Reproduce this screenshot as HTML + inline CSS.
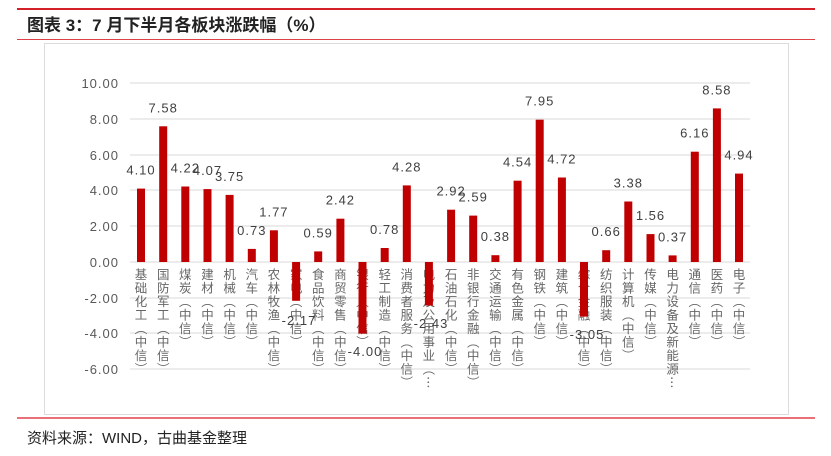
<!DOCTYPE html>
<html><head><meta charset="utf-8"><style>
html,body{margin:0;padding:0;background:#fff;}
body{width:831px;height:456px;overflow:hidden;position:relative;font-family:"Liberation Sans","Noto Sans CJK SC",sans-serif;}
.c{font-size:12.5px;fill:#666;letter-spacing:1px;writing-mode:tb;font-family:"Noto Sans CJK SC",sans-serif;}
.v{font-size:13px;fill:#404040;text-anchor:middle;letter-spacing:1px;}
</style></head><body>
<svg width="831" height="456" viewBox="0 0 831 456" xmlns="http://www.w3.org/2000/svg" style="position:absolute;left:0;top:0">
<line x1="17" y1="9" x2="815" y2="9" stroke="#d4202a" stroke-width="2"/>
<text x="27" y="31" font-size="17" font-weight="bold" fill="#222">图表 3：7 月下半月各板块涨跌幅（%）</text>
<line x1="17" y1="39.5" x2="815" y2="39.5" stroke="#e04048" stroke-width="1"/>
<rect x="44.5" y="43.5" width="744" height="371" fill="#fff" stroke="#dcdcdc" stroke-width="1"/>
<g stroke="#d9d9d9" stroke-width="1">
<line x1="130" y1="83" x2="750" y2="83"/>
<line x1="130" y1="119" x2="750" y2="119"/>
<line x1="130" y1="155" x2="750" y2="155"/>
<line x1="130" y1="190" x2="750" y2="190"/>
<line x1="130" y1="226" x2="750" y2="226"/>
<line x1="130" y1="262" x2="750" y2="262"/>
<line x1="130" y1="298" x2="750" y2="298"/>
<line x1="130" y1="333" x2="750" y2="333"/>
<line x1="130" y1="369" x2="750" y2="369"/>
</g>
<g font-size="13" fill="#595959" text-anchor="end" letter-spacing="1">
<text x="119" y="88">10.00</text><text x="119" y="124">8.00</text><text x="119" y="160">6.00</text>
<text x="119" y="195">4.00</text><text x="119" y="231">2.00</text><text x="119" y="267">0.00</text>
<text x="119" y="303">-2.00</text><text x="119" y="338">-4.00</text><text x="119" y="374">-6.00</text>
</g>
<g class="labels">
<text class="c" x="141" y="268">基础化工（中信）</text>
<text class="c" x="163.2" y="268">国防军工（中信）</text>
<text class="c" x="185.3" y="268">煤炭（中信）</text>
<text class="c" x="207.5" y="268">建材（中信）</text>
<text class="c" x="229.6" y="268">机械（中信）</text>
<text class="c" x="251.8" y="268">汽车（中信）</text>
<text class="c" x="273.9" y="268">农林牧渔（中信）</text>
<text class="c" x="296.1" y="268">家电（中信）</text>
<text class="c" x="318.2" y="268">食品饮料（中信）</text>
<text class="c" x="340.4" y="268">商贸零售（中信）</text>
<text class="c" x="362.5" y="268">银行（中信）</text>
<text class="c" x="384.7" y="268">轻工制造（中信）</text>
<text class="c" x="406.8" y="268">消费者服务（中信）</text>
<text class="c" x="428.9" y="268">电力及公用事业（…</text>
<text class="c" x="451.1" y="268">石油石化（中信）</text>
<text class="c" x="473.2" y="268">非银行金融（中信）</text>
<text class="c" x="495.4" y="268">交通运输（中信）</text>
<text class="c" x="517.6" y="268">有色金属（中信）</text>
<text class="c" x="539.7" y="268">钢铁（中信）</text>
<text class="c" x="561.9" y="268">建筑（中信）</text>
<text class="c" x="584" y="268">综合金融（中信）</text>
<text class="c" x="606.2" y="268">纺织服装（中信）</text>
<text class="c" x="628.3" y="268">计算机（中信）</text>
<text class="c" x="650.5" y="268">传媒（中信）</text>
<text class="c" x="672.6" y="268">电力设备及新能源…</text>
<text class="c" x="694.8" y="268">通信（中信）</text>
<text class="c" x="716.9" y="268">医药（中信）</text>
<text class="c" x="739" y="268">电子（中信）</text>
</g>
<g fill="#c00000">
<rect x="137" y="188.6" width="8" height="73.4"/>
<rect x="159.2" y="126.3" width="8" height="135.7"/>
<rect x="181.3" y="186.5" width="8" height="75.5"/>
<rect x="203.5" y="189.1" width="8" height="72.9"/>
<rect x="225.6" y="194.9" width="8" height="67.1"/>
<rect x="247.8" y="248.9" width="8" height="13.1"/>
<rect x="269.9" y="230.3" width="8" height="31.7"/>
<rect x="292.1" y="262" width="8" height="38.8"/>
<rect x="314.2" y="251.4" width="8" height="10.6"/>
<rect x="336.4" y="218.7" width="8" height="43.3"/>
<rect x="358.5" y="262" width="8" height="71.6"/>
<rect x="380.7" y="248" width="8" height="14"/>
<rect x="402.8" y="185.4" width="8" height="76.6"/>
<rect x="424.9" y="262" width="8" height="43.5"/>
<rect x="447.1" y="209.7" width="8" height="52.3"/>
<rect x="469.2" y="215.6" width="8" height="46.4"/>
<rect x="491.4" y="255.2" width="8" height="6.8"/>
<rect x="513.6" y="180.7" width="8" height="81.3"/>
<rect x="535.7" y="119.7" width="8" height="142.3"/>
<rect x="557.9" y="177.5" width="8" height="84.5"/>
<rect x="580" y="262" width="8" height="54.6"/>
<rect x="602.2" y="250.2" width="8" height="11.8"/>
<rect x="624.3" y="201.5" width="8" height="60.5"/>
<rect x="646.5" y="234.1" width="8" height="27.9"/>
<rect x="668.6" y="255.4" width="8" height="6.6"/>
<rect x="690.8" y="151.7" width="8" height="110.3"/>
<rect x="712.9" y="108.4" width="8" height="153.6"/>
<rect x="735" y="173.6" width="8" height="88.4"/>
</g>
<g>
<text class="v" x="141" y="174.6">4.10</text>
<text class="v" x="163.2" y="112.3">7.58</text>
<text class="v" x="185.3" y="172.5">4.22</text>
<text class="v" x="207.5" y="175.1">4.07</text>
<text class="v" x="229.6" y="180.9">3.75</text>
<text class="v" x="251.8" y="234.9">0.73</text>
<text class="v" x="273.9" y="216.3">1.77</text>
<text class="v" x="299" y="325">-2.17</text>
<text class="v" x="318.2" y="237.4">0.59</text>
<text class="v" x="340.4" y="204.7">2.42</text>
<text class="v" x="365" y="356">-4.00</text>
<text class="v" x="384.7" y="234">0.78</text>
<text class="v" x="406.8" y="171.4">4.28</text>
<text class="v" x="431" y="328">-2.43</text>
<text class="v" x="451.1" y="195.7">2.92</text>
<text class="v" x="473.2" y="201.6">2.59</text>
<text class="v" x="495.4" y="241.2">0.38</text>
<text class="v" x="517.6" y="166.7">4.54</text>
<text class="v" x="539.7" y="105.7">7.95</text>
<text class="v" x="561.9" y="163.5">4.72</text>
<text class="v" x="587" y="339">-3.05</text>
<text class="v" x="606.2" y="236.2">0.66</text>
<text class="v" x="628.3" y="187.5">3.38</text>
<text class="v" x="650.5" y="220.1">1.56</text>
<text class="v" x="672.6" y="241.4">0.37</text>
<text class="v" x="694.8" y="137.7">6.16</text>
<text class="v" x="716.9" y="94.4">8.58</text>
<text class="v" x="739" y="159.6">4.94</text>
</g>
<line x1="17" y1="418" x2="815" y2="418" stroke="#e04048" stroke-width="1.5"/>
<text x="27" y="443" font-size="15" fill="#222">资料来源：WIND，古曲基金整理</text>
</svg>
</body></html>
